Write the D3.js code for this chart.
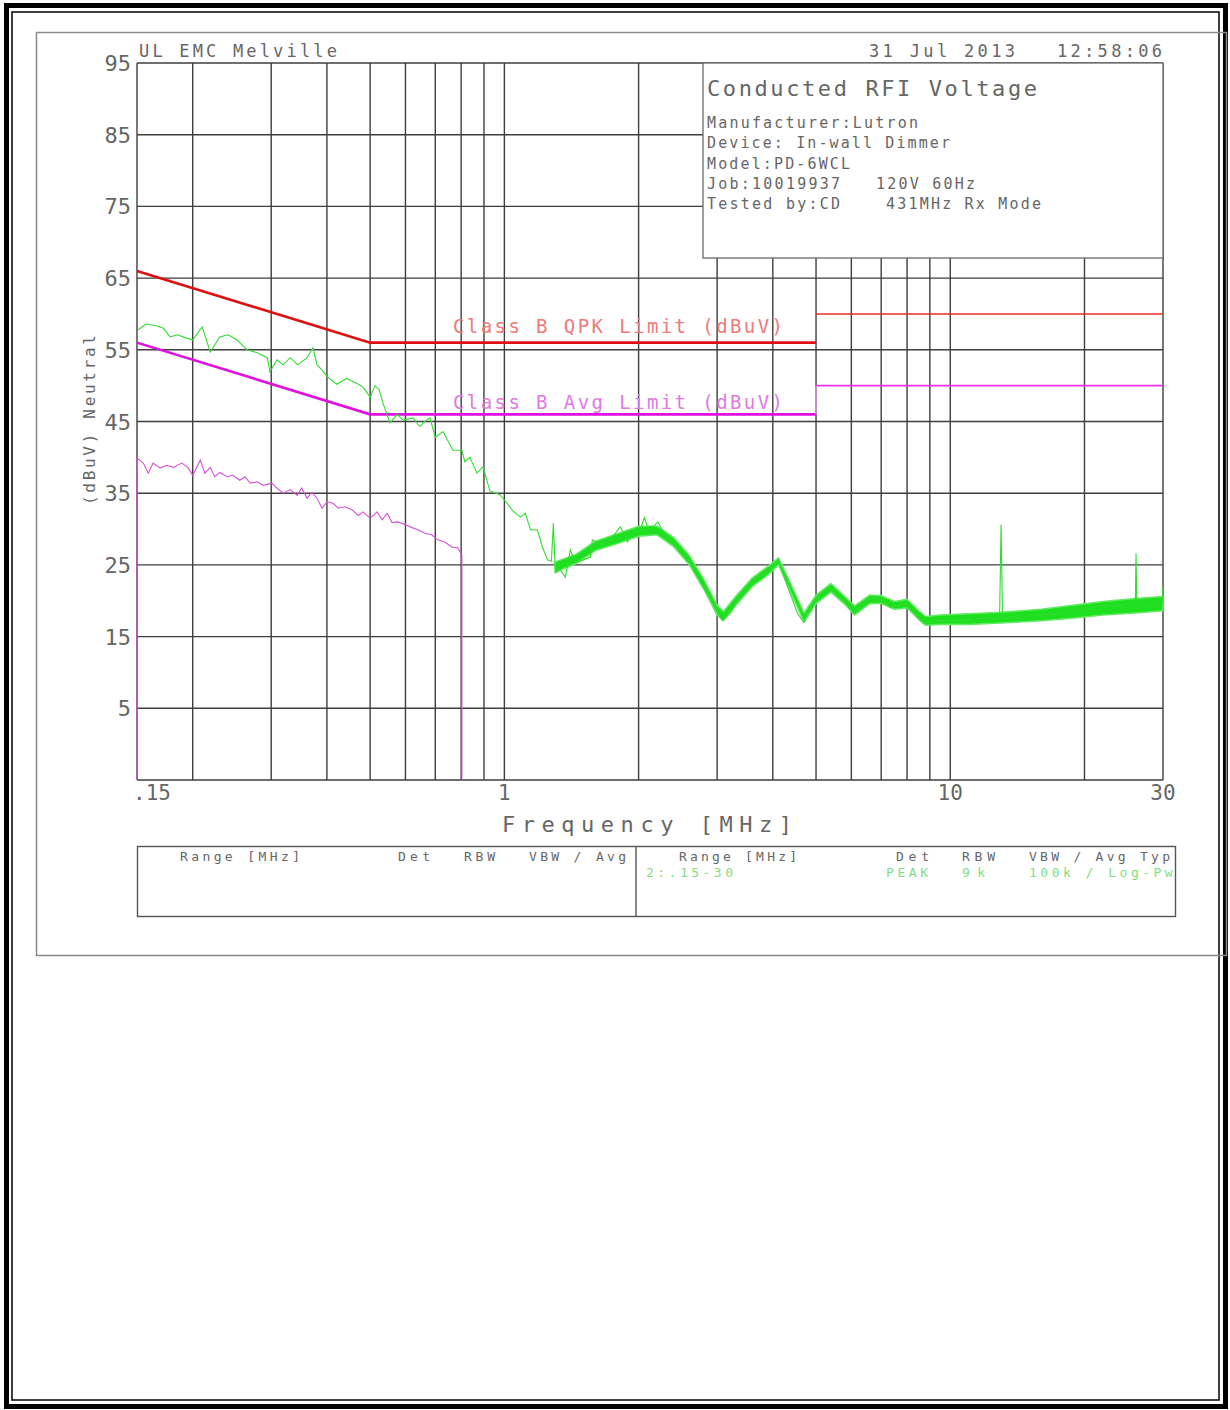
<!DOCTYPE html>
<html>
<head>
<meta charset="utf-8">
<script src="https://cdn.jsdelivr.net/npm/d3@7"></script>
<style>
body { margin: 0; background: #fff; }
svg { display: block; }
text { font-family: "DejaVu Sans Mono", monospace; }
</style>
</head>
<body>
<div id="chart"></div>
<script>
"use strict";
// grid / ticks
var yGrid = [-5, 5, 15, 25, 35, 45, 55, 65, 75, 85, 95];
var yTickValues = [95, 85, 75, 65, 55, 45, 35, 25, 15, 5];
var xGrid = [0.2, 0.3, 0.4, 0.5, 0.6, 0.7, 0.8, 0.9, 1, 2, 3, 4, 5, 6, 7, 8, 9, 10, 20];
var xTickValues = [0.15, 1, 10, 30];
var xTickLabels = [".15", "1", "10", "30"];

// limits [MHz, dBuV]
var qpkLimit = [[0.15, 66], [0.5, 56], [5, 56]];
var qpkLimitHigh = [[5, 60], [30, 60]];
var avgLimit = [[0.15, 56], [0.5, 46], [5, 46]];
var avgLimitHigh = [[5, 50], [30, 50]];
var avgLimitStep = [[5, 46], [5, 50]];

// peak trace (green) [MHz, dBuV]
var peakTrace = [
    [0.151, 57.8], [0.157, 58.6], [0.165, 58.4], [0.172, 58.0], [0.178, 56.8], [0.185, 57.1], [0.192, 56.7],
    [0.200, 56.4], [0.210, 58.2], [0.219, 54.7], [0.230, 56.8], [0.240, 57.1], [0.251, 56.4], [0.265, 55.0],
    [0.279, 54.6], [0.294, 53.9], [0.298, 51.9], [0.309, 53.6], [0.319, 52.9], [0.331, 53.9], [0.344, 52.9],
    [0.361, 53.9], [0.372, 55.3], [0.380, 52.9], [0.390, 52.2], [0.400, 51.3], [0.421, 50.2], [0.443, 51.0],
    [0.467, 50.3], [0.482, 49.8], [0.500, 48.4], [0.513, 50.0], [0.524, 49.4], [0.534, 47.6], [0.554, 44.8],
    [0.575, 46.0], [0.593, 45.2], [0.624, 45.5], [0.646, 44.3], [0.663, 45.0], [0.681, 45.5], [0.700, 42.8],
    [0.728, 43.6], [0.767, 41.0], [0.803, 41.0], [0.815, 39.4], [0.837, 40.0], [0.868, 37.8], [0.896, 38.7],
    [0.928, 35.3], [0.978, 34.8], [1.014, 33.6], [1.046, 32.5], [1.086, 31.7], [1.115, 32.2], [1.144, 29.9],
    [1.186, 29.9], [1.217, 27.5], [1.249, 25.7], [1.275, 25.5], [1.288, 30.8], [1.301, 23.9], [1.335, 24.3],
    [1.370, 23.3], [1.406, 27.1], [1.443, 25.3], [1.504, 25.7], [1.559, 26.1], [1.575, 28.5], [1.642, 27.8],
    [1.727, 28.5], [1.820, 30.3], [1.888, 28.2], [1.946, 29.5], [2.019, 29.9], [2.060, 31.6], [2.092, 30.4],
    [2.158, 30.3], [2.210, 31.0], [2.273, 29.6], [2.357, 28.5], [2.444, 27.5], [2.548, 26.6], [2.656, 24.3],
    [2.797, 21.9], [2.940, 19.7], [3.080, 17.3], [3.215, 18.3], [3.330, 20.1], [3.510, 21.9], [3.690, 23.2],
    [3.890, 23.9], [4.120, 25.6], [4.320, 21.9], [4.540, 18.3], [4.690, 17.0], [4.780, 18.3], [5.030, 20.5],
    [5.370, 21.9], [5.670, 20.5], [6.070, 18.3], [6.520, 20.1], [6.860, 20.5], [7.330, 19.1], [8.000, 19.7],
    [8.450, 17.7], [8.720, 16.8], [9.360, 17.3], [10.0, 17.2], [10.9, 17.4], [12.1, 17.6], [12.9, 17.5],
    [13.0, 30.6], [13.1, 17.5], [14.1, 17.7], [15.9, 18.0], [18.3, 18.3], [20.9, 19.1], [23.7, 19.4],
    [26.0, 19.4], [26.1, 26.6], [26.2, 19.4], [28.1, 19.1], [29.9, 19.7], [30.0, 21.9]
];

// spread of the dense peak trace above 1.3 MHz [MHz, low, high]
var peakBand = [
    [1.30, 24.0, 25.4], [1.45, 25.2, 26.5], [1.60, 27.0, 28.3], [1.80, 28.0, 29.4], [2.00, 29.0, 30.4],
    [2.20, 29.2, 30.4], [2.40, 27.5, 28.8], [2.60, 25.0, 26.3], [2.80, 21.6, 23.0], [3.00, 18.0, 19.4],
    [3.10, 17.2, 18.5], [3.30, 19.3, 20.6], [3.60, 22.0, 23.2], [3.90, 23.6, 24.8], [4.12, 25.0, 26.0],
    [4.40, 21.0, 22.2], [4.70, 17.0, 18.3], [5.00, 19.6, 20.8], [5.40, 21.2, 22.4], [5.80, 19.5, 20.6],
    [6.10, 18.0, 19.3], [6.60, 19.6, 20.8], [7.00, 19.6, 20.7], [7.50, 18.8, 19.9], [8.00, 19.0, 20.2],
    [8.50, 17.4, 18.6], [8.80, 16.6, 17.8], [9.50, 16.7, 18.0], [11.0, 16.7, 18.2], [13.0, 16.9, 18.4],
    [16.0, 17.2, 18.8], [19.0, 17.6, 19.4], [22.0, 18.0, 19.9], [26.0, 18.3, 20.3], [30.0, 18.6, 20.6]
];

// average trace (magenta) [MHz, dBuV]
var avgTrace = [
    [0.150, -5], [0.150, 39.9], [0.155, 39.2], [0.159, 37.8], [0.163, 39.2], [0.169, 38.5], [0.175, 38.9],
    [0.181, 38.6], [0.189, 39.2], [0.195, 38.6], [0.200, 37.5], [0.208, 39.6], [0.213, 37.8], [0.219, 38.6],
    [0.224, 37.3], [0.230, 37.9], [0.239, 37.3], [0.246, 37.5], [0.255, 36.8], [0.262, 37.3], [0.269, 36.4],
    [0.279, 36.6], [0.288, 36.1], [0.301, 36.4], [0.309, 35.7], [0.319, 35.0], [0.331, 35.5], [0.343, 34.7],
    [0.351, 35.7], [0.361, 34.3], [0.370, 35.1], [0.380, 34.3], [0.390, 32.9], [0.400, 33.8], [0.413, 33.6],
    [0.424, 32.9], [0.439, 33.1], [0.455, 32.7], [0.470, 31.9], [0.482, 32.4], [0.500, 31.5], [0.518, 32.4],
    [0.532, 31.3], [0.546, 32.2], [0.560, 30.9], [0.577, 31.0], [0.600, 30.6], [0.621, 30.2], [0.640, 29.9],
    [0.663, 29.4], [0.687, 29.2], [0.709, 28.5], [0.735, 28.2], [0.762, 27.5], [0.786, 27.4], [0.803, 26.4],
    [0.803, -5]
];

var infoLines = ["Manufacturer:Lutron", "Device: In-wall Dimmer", "Model:PD-6WCL"];

var W = 1230, H = 1410;
var svg = d3.select("#chart").append("svg").attr("width", W).attr("height", H);

var x = d3.scaleLog().domain([0.15, 30]).range([137, 1163]);
var y = d3.scaleLinear().domain([-5, 95]).range([780, 63]);

function addText(g, t, px, py, size, fill, len, anchor) {
    var el = g.append("text").attr("x", px).attr("y", py)
        .attr("font-size", size).attr("fill", fill).text(t);
    if (len) el.attr("textLength", len).attr("lengthAdjust", "spacing");
    if (anchor) el.attr("text-anchor", anchor);
    return el;
}

// page borders
svg.append("rect").attr("x", 6.5).attr("y", 5.5).attr("width", 1219).attr("height", 1401)
    .attr("fill", "none").attr("stroke", "#000").attr("stroke-width", 5);
svg.append("rect").attr("x", 12).attr("y", 12).attr("width", 1207).attr("height", 1388)
    .attr("fill", "none").attr("stroke", "#000").attr("stroke-width", 1.5);
// plot image frame
svg.append("rect").attr("x", 36.5).attr("y", 32.5).attr("width", 1190).attr("height", 923)
    .attr("fill", "none").attr("stroke", "#8a8a8a").attr("stroke-width", 1.5);

var gridColor = "#3e3e3e";
var grid = svg.append("g").attr("stroke", gridColor).attr("stroke-width", 1.4);
grid.selectAll("line.h").data(yGrid).enter().append("line").attr("class", "h")
    .attr("x1", x(0.15)).attr("x2", x(30))
    .attr("y1", function (d) { return y(d); }).attr("y2", function (d) { return y(d); });
grid.selectAll("line.v").data(xGrid.concat([0.15, 30])).enter().append("line").attr("class", "v")
    .attr("y1", y(-5)).attr("y2", y(95))
    .attr("x1", function (d) { return x(d); }).attr("x2", function (d) { return x(d); });

// info box over the grid
svg.append("rect").attr("x", 703).attr("y", y(95)).attr("width", x(30) - 703).attr("height", 258 - y(95))
    .attr("fill", "#fff").attr("stroke", "#6a6a6a").attr("stroke-width", 1.3);

var textColor = "#666";
var labels = svg.append("g");
addText(labels, "UL EMC Melville", 139, 57, 17, textColor, 198);
addText(labels, "31 Jul 2013", 869, 57, 17, textColor, 146);
addText(labels, "12:58:06", 1057, 57, 17, textColor, 105);

addText(labels, "Conducted RFI Voltage", 707, 96, 22, textColor, 330);
infoLines.forEach(function (t, i) {
    addText(labels, t, 707, 128 + i * 20.3, 15, textColor, [211, 243, 143][i]);
});
addText(labels, "Job:10019937", 707, 189, 15, textColor, 133);
addText(labels, "120V 60Hz", 876, 189, 15, textColor, 99);
addText(labels, "Tested by:CD", 707, 209, 15, textColor, 133);
addText(labels, "431MHz Rx Mode", 886, 209, 15, textColor, 155);

// y ticks
labels.selectAll("text.yt").data(yTickValues).enter().append("text").attr("class", "yt")
    .attr("x", 131).attr("y", function (d) { return y(d) + 8; })
    .attr("text-anchor", "end").attr("font-size", 22).attr("fill", textColor)
    .text(function (d) { return d; });
addText(labels, "(dBuV) Neutral", 0, 0, 16, textColor, 170, "middle")
    .attr("transform", "translate(95,420) rotate(-90)");

// x ticks
labels.selectAll("text.xt").data(xTickValues).enter().append("text").attr("class", "xt")
    .attr("x", function (d, i) { return i === 0 ? x(d) - 4 : x(d); })
    .attr("y", 800)
    .attr("text-anchor", function (d, i) { return i === 0 ? "start" : "middle"; })
    .attr("font-size", 21).attr("fill", textColor)
    .text(function (d, i) { return xTickLabels[i]; });
addText(labels, "Frequency [MHz]", 502, 832, 22, textColor, 290);

// limit lines
var line = d3.line().x(function (d) { return x(d[0]); }).y(function (d) { return y(d[1]); });
svg.append("path").datum(qpkLimit).attr("d", line).attr("fill", "none")
    .attr("stroke", "#e01010").attr("stroke-width", 2.6);
svg.append("path").datum(qpkLimitHigh).attr("d", line).attr("fill", "none")
    .attr("stroke", "#ee2a2a").attr("stroke-width", 1.6);
svg.append("path").datum(avgLimit).attr("d", line).attr("fill", "none")
    .attr("stroke", "#e010e0").attr("stroke-width", 2.6);
svg.append("path").datum(avgLimitHigh).attr("d", line).attr("fill", "none")
    .attr("stroke", "#ee30ee").attr("stroke-width", 1.6);
svg.append("path").datum(avgLimitStep).attr("d", line).attr("fill", "none")
    .attr("stroke", "#f0a0f0").attr("stroke-width", 1.2);

addText(labels, "Class B QPK Limit (dBuV)", 453, 333, 19, "#ee7a7a", 330);
addText(labels, "Class B Avg Limit (dBuV)", 453, 409, 19, "#e07ae0", 330);

// traces
svg.append("path").datum(avgTrace).attr("d", line).attr("fill", "none")
    .attr("stroke", "#d650d6").attr("stroke-width", 1.1);
var band = d3.area().x(function (d) { return x(d[0]); })
    .y0(function (d) { return y(d[1]); }).y1(function (d) { return y(d[2]); });
svg.append("path").datum(peakBand).attr("d", band).attr("fill", "#1ee01e")
    .attr("stroke", "#66ea66").attr("stroke-width", 1.5).attr("stroke-linejoin", "round");
svg.append("path").datum(peakTrace).attr("d", line).attr("fill", "none")
    .attr("stroke", "#30dc30").attr("stroke-width", 1.1);

// settings table
var tbl = svg.append("g");
tbl.append("rect").attr("x", 137.5).attr("y", 846.5).attr("width", 1038).attr("height", 70)
    .attr("fill", "none").attr("stroke", "#555").attr("stroke-width", 1.4);
tbl.append("line").attr("x1", 636).attr("x2", 636).attr("y1", 847).attr("y2", 916)
    .attr("stroke", "#555").attr("stroke-width", 1.4);
svg.append("clipPath").attr("id", "tclip").append("rect")
    .attr("x", 138).attr("y", 847).attr("width", 1037).attr("height", 69);
var tt = tbl.append("g").attr("clip-path", "url(#tclip)");
addText(tt, "Range [MHz]", 180, 861, 13, "#666", 120);
addText(tt, "Det", 398, 861, 13, "#666", 32);
addText(tt, "RBW", 464, 861, 13, "#666", 31);
addText(tt, "VBW / Avg", 529, 861, 13, "#666", 97);
addText(tt, "Range [MHz]", 679, 861, 13, "#666", 118);
addText(tt, "Det", 896, 861, 13, "#666", 33);
addText(tt, "RBW", 962, 861, 13, "#666", 33);
addText(tt, "VBW / Avg Typ", 1029, 861, 13, "#666", 141);
var green = "#7ee07e";
addText(tt, "2:.15-30", 646, 877, 13, green, 87);
addText(tt, "PEAK", 886, 877, 13, green, 42);
addText(tt, "9k", 962, 877, 13, green, 23);
addText(tt, "100k / Log-Pwr", 1029, 877, 13, green, 155);
</script>
</body>
</html>
